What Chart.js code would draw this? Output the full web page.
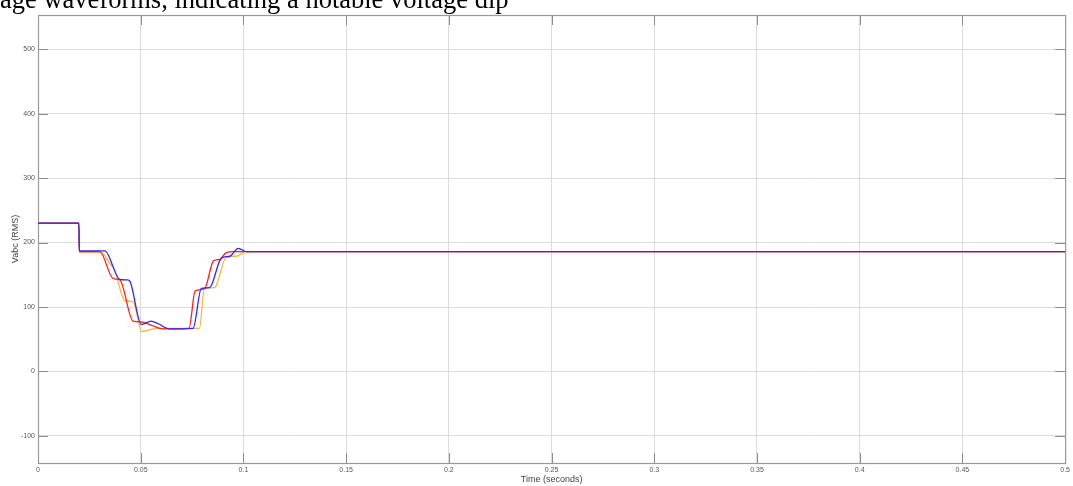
<!DOCTYPE html>
<html>
<head>
<meta charset="utf-8">
<script src="https://cdn.jsdelivr.net/npm/chart.js@4/dist/chart.umd.min.js"></script>
<style>
  html, body { margin: 0; padding: 0; background: #fff; overflow: hidden; }
  #wrap { position: relative; width: 1073px; height: 486px; }
  #caption { position: absolute; top: -14px; white-space: nowrap; font-family: "Liberation Serif", "Times New Roman", serif; font-size: 26.5px; line-height: 26.5px; color: #000; z-index: 2; }
  canvas { position: absolute; left: 0; top: 0; }
</style>
</head>
<body>
<div id="wrap">
  <div id="caption">Voltage waveforms, indicating a notable voltage dip</div>
  <canvas id="c" width="1073" height="486"></canvas>
</div>
<script>
// ---- data (time in seconds, RMS voltage) ----
const tPhaseC = [0, 0.0199, 0.0201, 0.0325, 0.0398, 0.0435, 0.0447, 0.0503, 0.055, 0.0585, 0.064, 0.0755, 0.0795, 0.0835, 0.0885, 0.090, 0.0935, 0.0975, 0.1015, 0.5];
const vPhaseC = [230, 230, 187, 187, 143, 142, 140, 73, 78, 74, 66, 67, 129, 130, 172, 177, 179, 191, 186, 186];

const tPhaseA = [0, 0.0199, 0.0201, 0.030, 0.0366, 0.0398, 0.0463, 0.050, 0.055, 0.0607, 0.0735, 0.0765, 0.081, 0.0855, 0.0885, 0.0915, 0.095, 0.5];
const vPhaseA = [230, 230, 186, 186, 144, 142, 78, 77, 72, 66, 67, 125, 128, 172, 174, 184, 186, 186];

const tPhaseB = [0, 0.0199, 0.0201, 0.0305, 0.0358, 0.037, 0.0422, 0.0463, 0.0506, 0.0576, 0.0786, 0.081, 0.0859, 0.0916, 0.0972, 0.1007, 0.5];
const vPhaseB = [230, 230, 185, 185, 164, 160, 110, 108, 62, 67, 67, 129, 130, 177, 179, 186, 186];

const xTickValues = [0, 0.05, 0.1, 0.15, 0.2, 0.25, 0.3, 0.35, 0.4, 0.45, 0.5];
const xTickLabels = ['0', '0.05', '0.1', '0.15', '0.2', '0.25', '0.3', '0.35', '0.4', '0.45', '0.5'];
const yTickValues = [-100, 0, 100, 200, 300, 400, 500];
const yTickLabels = ['-100', '0', '100', '200', '300', '400', '500'];

const xTitle = 'Time (seconds)';
const yTitle = 'Vabc (RMS)';

// ---- caption placement (hide leading "Volt") ----
(function () {
  const cap = document.getElementById('caption');
  const m = document.createElement('canvas').getContext('2d');
  m.font = '26.5px "Liberation Serif"';
  cap.style.left = (-m.measureText('Volt').width) + 'px';
})();

function pts(ts, vs) { return ts.map((t, i) => ({ x: t, y: vs[i] })); }

const frameAndTicks = {
  id: 'frameAndTicks',
  beforeDatasetsDraw(chart) {
    const { ctx, chartArea: a, scales: { x, y } } = chart;
    ctx.save();
    ctx.strokeStyle = '#8c8c8c';
    ctx.lineWidth = 1;
    ctx.beginPath();
    yTickValues.forEach(v => {
      const py = Math.round(y.getPixelForValue(v)) + 0.5;
      ctx.moveTo(a.left, py); ctx.lineTo(a.left + 10, py);
      ctx.moveTo(a.right, py); ctx.lineTo(a.right - 10, py);
    });
    xTickValues.forEach(v => {
      const px = Math.round(x.getPixelForValue(v)) + 0.5;
      ctx.moveTo(px, a.bottom); ctx.lineTo(px, a.bottom - 10);
      ctx.moveTo(px, a.top); ctx.lineTo(px, a.top + 10);
    });
    ctx.stroke();
    ctx.strokeStyle = '#9a9a9a';
    ctx.lineWidth = 1.2;
    ctx.strokeRect(a.left + 0.5, a.top + 0.5, a.right - a.left, a.bottom - a.top);
    ctx.restore();
  }
};

new Chart(document.getElementById('c'), {
  type: 'line',
  data: {
    datasets: [
      { label: 'C', data: pts(tPhaseC, vPhaseC), borderColor: '#2a2aff', borderWidth: 1.3 },
      { label: 'A', data: pts(tPhaseA, vPhaseA), borderColor: '#ff2020', borderWidth: 1.3 },
      { label: 'B', data: pts(tPhaseB, vPhaseB), borderColor: '#f7b640', borderWidth: 1.3 }
    ]
  },
  options: {
    responsive: false,
    animation: false,
    devicePixelRatio: 1,
    layout: { padding: { top: 15, right: 5, left: 0, bottom: 0 } },
    elements: {
      point: { radius: 0 },
      line: { cubicInterpolationMode: 'monotone', fill: false }
    },
    plugins: { legend: { display: false }, tooltip: { enabled: false } },
    scales: {
      x: {
        type: 'linear',
        min: 0, max: 0.5,
        afterBuildTicks(s) { s.ticks = xTickValues.map(v => ({ value: v })); },
        afterFit(s) { s.height = 23; },
        grid: { color: '#dcdcdc', lineWidth: 1, drawTicks: false },
        border: { display: true, color: '#9a9a9a' },
        ticks: {
          padding: 3,
          maxRotation: 0,
          autoSkip: false,
          color: '#555',
          font: { family: 'Liberation Sans', size: 7 },
          callback(v) { const i = xTickValues.indexOf(v); return i >= 0 ? xTickLabels[i] : ''; }
        },
        title: { display: true, text: xTitle, color: '#444', font: { family: 'Liberation Sans', size: 9 }, padding: { top: 0, bottom: 1.5 } }
      },
      y: {
        type: 'linear',
        min: -142, max: 553,
        afterBuildTicks(s) { s.ticks = yTickValues.map(v => ({ value: v })); },
        afterFit(s) { s.width = 38; },
        grid: { color: '#dcdcdc', lineWidth: 1, drawTicks: false },
        border: { display: true, color: '#9a9a9a' },
        ticks: {
          padding: 3,
          autoSkip: false,
          color: '#555',
          font: { family: 'Liberation Sans', size: 7 },
          callback(v) { const i = yTickValues.indexOf(v); return i >= 0 ? yTickLabels[i] : ''; }
        },
        title: { display: true, text: yTitle, color: '#444', font: { family: 'Liberation Sans', size: 9 }, padding: { top: 10.5, bottom: 0 } }
      }
    }
  },
  plugins: [frameAndTicks]
});
</script>
</body>
</html>
